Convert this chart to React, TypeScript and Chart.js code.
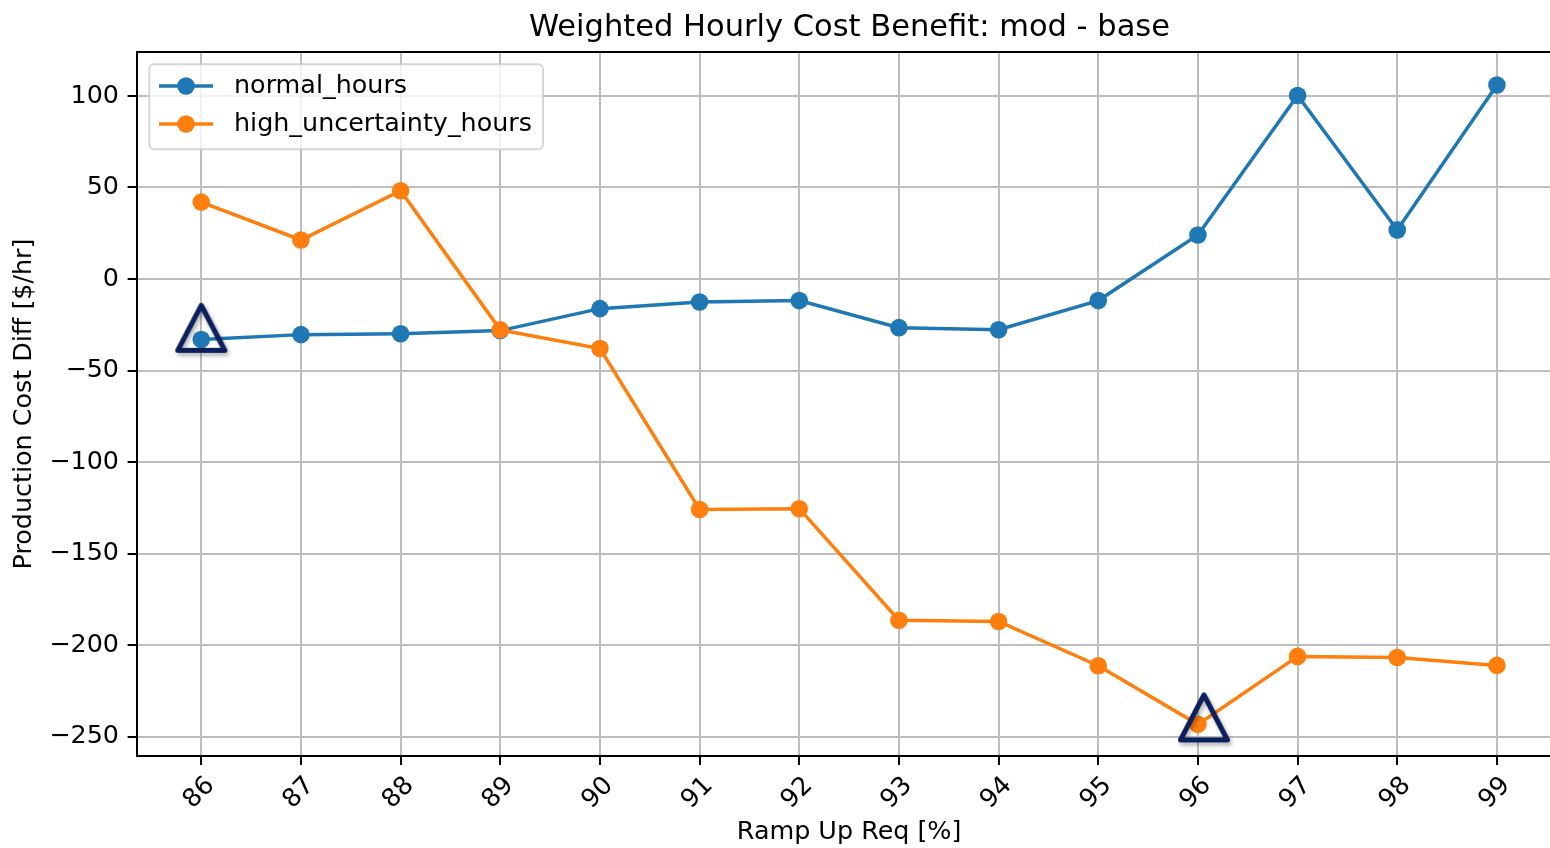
import React, { useEffect, useRef } from 'react';
import { Chart, registerables } from 'chart.js';

Chart.register(...registerables);

// ---- data ----
const rampUpReq = [86, 87, 88, 89, 90, 91, 92, 93, 94, 95, 96, 97, 98, 99];
const normalHours = [-33.1, -30.4, -29.9, -28.2, -16.2, -12.6, -11.8, -26.6, -27.7, -11.8, 24.0, 100.2, 26.8, 106.0];
const highUncertaintyHours = [42.0, 21.3, 48.2, -27.8, -38.0, -125.9, -125.5, -186.4, -187.1, -211.3, -243.3, -206.2, -206.8, -211.1];
const seriesNames = ['normal_hours', 'high_uncertainty_hours'];
const seriesColors = ['#1f77b4', '#ff7f0e'];
const yTickValues = [-250, -200, -150, -100, -50, 0, 50, 100];
const highlightX = [86, 96.06];
const highlightY = [-26.7, -239.5];
const titleText = 'Weighted Hourly Cost Benefit: mod - base';
const xTitleText = 'Ramp Up Req [%]';
const yTitleText = 'Production Cost Diff [$/hr]';

const FONT = "'DejaVu Sans', sans-serif";
const FS = 25.4;

function makeTriangle(): HTMLCanvasElement {
  const c = document.createElement('canvas');
  c.width = 80;
  c.height = 80;
  const ctx = c.getContext('2d') as CanvasRenderingContext2D;
  const cx = 40, cy = 40;
  ctx.shadowColor = 'rgba(0,0,0,0.3)';
  ctx.shadowBlur = 4;
  ctx.shadowOffsetX = 2;
  ctx.shadowOffsetY = 3;
  ctx.beginPath();
  ctx.moveTo(cx, cy - 22.5);
  ctx.lineTo(cx + 23.5, cy + 22.5);
  ctx.lineTo(cx - 23.5, cy + 22.5);
  ctx.closePath();
  ctx.lineWidth = 5;
  ctx.lineJoin = 'round';
  ctx.strokeStyle = '#0b1f5c';
  ctx.stroke();
  return c;
}

const framePlugin = {
  id: 'frameAndLegend',
  afterDatasetsDraw(chart: any) {
    const { ctx, chartArea: a } = chart;
    ctx.save();
    // top spine
    ctx.strokeStyle = '#000';
    ctx.lineWidth = 2;
    ctx.beginPath();
    ctx.moveTo(a.left, a.top);
    ctx.lineTo(a.right, a.top);
    ctx.stroke();

    // legend
    ctx.font = `${FS}px ${FONT}`;
    const boxL = a.left + 12.8;
    const boxT = a.top + 12.3;
    const textX = a.left + 97.5;
    let maxW = 0;
    seriesNames.forEach((n) => { maxW = Math.max(maxW, ctx.measureText(n).width); });
    const boxW = textX + maxW + 11 - boxL;
    const boxH = 85;
    const r = 5;
    ctx.beginPath();
    ctx.moveTo(boxL + r, boxT);
    ctx.lineTo(boxL + boxW - r, boxT);
    ctx.arcTo(boxL + boxW, boxT, boxL + boxW, boxT + r, r);
    ctx.lineTo(boxL + boxW, boxT + boxH - r);
    ctx.arcTo(boxL + boxW, boxT + boxH, boxL + boxW - r, boxT + boxH, r);
    ctx.lineTo(boxL + r, boxT + boxH);
    ctx.arcTo(boxL, boxT + boxH, boxL, boxT + boxH - r, r);
    ctx.lineTo(boxL, boxT + r);
    ctx.arcTo(boxL, boxT, boxL + r, boxT, r);
    ctx.closePath();
    ctx.fillStyle = 'rgba(255,255,255,0.8)';
    ctx.fill();
    ctx.strokeStyle = 'rgba(204,204,204,0.8)';
    ctx.lineWidth = 2;
    ctx.stroke();

    const rows = [a.top + 34, a.top + 72];
    seriesNames.forEach((name, i) => {
      const y = rows[i];
      ctx.strokeStyle = seriesColors[i];
      ctx.lineWidth = 3.5;
      ctx.beginPath();
      ctx.moveTo(a.left + 22.5, y);
      ctx.lineTo(a.left + 76.5, y);
      ctx.stroke();
      ctx.fillStyle = seriesColors[i];
      ctx.beginPath();
      ctx.arc(a.left + 49.5, y, 8.8, 0, Math.PI * 2);
      ctx.fill();
      ctx.fillStyle = '#000';
      ctx.textAlign = 'left';
      ctx.textBaseline = 'middle';
      ctx.fillText(name, textX, y);
    });
    ctx.restore();
  },
};

export default function App() {
  const ref = useRef<HTMLCanvasElement | null>(null);

  useEffect(() => {
    if (!ref.current) return;
    const tri = makeTriangle();
    const chart = new Chart(ref.current, {
      type: 'line',
      data: {
        datasets: [
          {
            label: 'highlight',
            data: highlightX.map((x, i) => ({ x, y: highlightY[i] })),
            showLine: false,
            pointStyle: tri as any,
            pointRadius: 10,
            order: 0,
          } as any,
          {
            label: seriesNames[1],
            data: rampUpReq.map((x, i) => ({ x, y: highUncertaintyHours[i] })),
            borderColor: seriesColors[1],
            backgroundColor: seriesColors[1],
            borderWidth: 3.5,
            pointRadius: 8.8,
            pointBorderWidth: 0,
            pointBackgroundColor: seriesColors[1],
            order: 1,
          },
          {
            label: seriesNames[0],
            data: rampUpReq.map((x, i) => ({ x, y: normalHours[i] })),
            borderColor: seriesColors[0],
            backgroundColor: seriesColors[0],
            borderWidth: 3.5,
            pointRadius: 8.8,
            pointBorderWidth: 0,
            pointBackgroundColor: seriesColors[0],
            order: 2,
          },
        ],
      },
      options: {
        responsive: false,
        animation: false,
        devicePixelRatio: 1,
        events: [],
        layout: { padding: { left: 0, right: 0, top: 0, bottom: 0 } },
        plugins: {
          legend: { display: false },
          tooltip: { enabled: false },
          title: {
            display: true,
            text: titleText,
            color: '#000',
            font: { family: FONT, size: 30.5, weight: 'normal' },
            padding: { top: 9.7, bottom: 5.7 },
          },
        },
        scales: {
          x: {
            type: 'linear',
            min: 85.35,
            max: 99.65,
            afterBuildTicks: (scale: any) => {
              scale.ticks = rampUpReq.map((v) => ({ value: v }));
            },
            afterFit: (scale: any) => {
              scale.height = 92;
            },
            ticks: {
              autoSkip: false,
              minRotation: 45,
              maxRotation: 45,
              padding: 6,
              labelOffset: 9.4,
              color: '#000',
              font: { family: FONT, size: FS },
              callback: (v: any) => String(v),
            },
            grid: {
              color: '#bdbdbd',
              lineWidth: 2,
              tickLength: 8.9,
              tickColor: '#000',
              tickWidth: 2,
            },
            border: { display: true, color: '#000', width: 2 },
            title: {
              display: true,
              text: xTitleText,
              color: '#000',
              font: { family: FONT, size: FS },
              padding: { top: 0, bottom: 0 },
            },
          },
          y: {
            type: 'linear',
            min: -260.6,
            max: 124.0,
            afterBuildTicks: (scale: any) => {
              scale.ticks = yTickValues.map((v) => ({ value: v }));
            },
            afterFit: (scale: any) => {
              scale.width = 136.5;
            },
            ticks: {
              padding: 8.6,
              color: '#000',
              font: { family: FONT, size: FS },
              callback: (v: any) => (v < 0 ? '\u2212' + Math.abs(v) : String(v)),
            },
            grid: {
              color: '#bdbdbd',
              lineWidth: 2,
              tickLength: 8.9,
              tickColor: '#000',
              tickWidth: 2,
            },
            border: { display: true, color: '#000', width: 2 },
            title: {
              display: true,
              text: yTitleText,
              color: '#000',
              font: { family: FONT, size: FS },
              padding: { top: 9.5, bottom: 0 },
            },
          },
          yRightSpacer: {
            type: 'linear',
            position: 'right',
            min: -260.6,
            max: 124.0,
            display: true,
            afterFit: (scale: any) => {
              scale.width = 137.3;
            },
            ticks: { display: false },
            grid: { display: false, drawTicks: false },
            border: { display: false },
            title: { display: false },
          },
        },
      },
      plugins: [framePlugin],
    } as any);
    return () => chart.destroy();
  }, []);

  return (
    <div
      style={{
        position: 'fixed',
        left: 0,
        top: 0,
        width: 1550,
        height: 848,
        overflow: 'hidden',
        background: '#fff',
      }}
    >
      <canvas ref={ref} width={1699} height={848} style={{ display: 'block', width: 1699, height: 848 }} />
    </div>
  );
}
